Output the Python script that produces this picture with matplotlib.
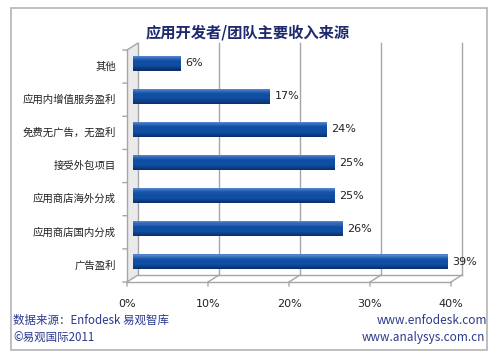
import matplotlib
matplotlib.use("Agg")
import matplotlib.pyplot as plt
import numpy as np
from matplotlib.transforms import ScaledTranslation
from matplotlib.patches import Rectangle, Polygon
from matplotlib.colors import to_rgb

plt.rcParams['font.family'] = ['Noto Sans CJK SC', 'DejaVu Sans']

# data
categories = ["广告盈利", "应用商店国内分成", "应用商店海外分成", "接受外包项目",
              "免费无广告，无盈利", "应用内增值服务盈利", "其他"]
values = [39, 26, 25, 25, 24, 17, 6]
xticks = [0, 10, 20, 30, 40]
xtick_labels = ["0%", "10%", "20%", "30%", "40%"]
title = "应用开发者/团队主要收入来源"
source = "数据来源：Enfodesk 易观智库"
copyright_txt = "©易观国际2011"
site1 = "www.enfodesk.com"
site2 = "www.analysys.com.cn"

W, H = 500, 357
fig = plt.figure(figsize=(W / 100, H / 100), dpi=100)

# outer frame
fig.patches.append(Rectangle((11 / W, 1 - 350 / H), 476 / W, 342 / H,
                             transform=fig.transFigure, fill=False,
                             edgecolor="#b4b4b4", linewidth=1.2))

# front plane of the pseudo-3d plot: x 127..451 px, y 50..282 px
ax_w, ax_h = 324, 232
ax = fig.add_axes([127 / W, 1 - 282 / H, ax_w / W, ax_h / H])
ax.set_xlim(0, 40)
ax.set_ylim(-0.5, 6.5)
ax.axis("off")

dpx, dpy = 11, 7  # depth offset in pixels
back = ScaledTranslation(dpx / 100, dpy / 100, fig.dpi_scale_trans)
mid = ScaledTranslation(dpx / 200, dpy / 200, fig.dpi_scale_trans)
xt = ax.get_xaxis_transform()
yt = ax.get_yaxis_transform()
grid_c = "#a6a6a6"
line = dict(arrowstyle="-", color=grid_c, lw=1, shrinkA=0, shrinkB=0)

# left wall (light gray)
ox, oy = dpx / ax_w, dpy / ax_h
ax.add_patch(Polygon([(0, 0), (0, 1), (ox, 1 + oy), (ox, oy)], closed=True,
                     transform=ax.transAxes, facecolor="#eaeaea", edgecolor="none",
                     zorder=0, clip_on=False))
ax.plot([0, 0], [0, 1], transform=ax.transAxes, color=grid_c, lw=1, clip_on=False)
ax.annotate("", xy=(0, 1), xycoords=ax.transAxes, xytext=(0, 1),
            textcoords=ax.transAxes + back, arrowprops=line)

# back gridlines, floor edges and ticks
for v in xticks:
    ax.plot([v, v], [0, 1], transform=xt + back, color=grid_c, lw=1, zorder=1, clip_on=False)
    ax.annotate("", xy=(v, 0), xycoords=xt, xytext=(v, 0), textcoords=xt + back,
                arrowprops=line)
    ax.annotate("", xy=(v, 0), xycoords=xt, xytext=(0, -3), textcoords="offset points",
                arrowprops=line)
ax.plot([0, 40], [0, 0], transform=xt, color=grid_c, lw=1, clip_on=False)
ax.plot([0, 40], [0, 0], transform=xt + back, color=grid_c, lw=1, clip_on=False)

# left axis ticks between categories
for b in np.arange(-0.5, 7, 1):
    ax.annotate("", xy=(0, b), xycoords=yt, xytext=(-3, 0), textcoords="offset points",
                arrowprops=line)

# bars with vertical gradient (dark bottom -> light top)
y = np.arange(len(values))
h = 0.45
n = 14
bottom_c = np.array(to_rgb("#0a2d68"))
mid_c = np.array(to_rgb("#0f4ea3"))
top_c = np.array(to_rgb("#5a8ad4"))
for i in range(n):
    t = (i + 0.5) / n
    if t < 0.6:
        col = bottom_c + (mid_c - bottom_c) * min(1, t / 0.35)
    else:
        col = mid_c + (top_c - mid_c) * ((t - 0.6) / 0.4) ** 1.5
    bars = ax.barh(y - h / 2 + i * h / n, values, height=h / n * 1.05, align="edge",
                   color=tuple(col), linewidth=0, zorder=3)
    for p in bars:
        p.set_transform(ax.transData + mid)

# value labels
for yi, v in zip(y, values):
    ax.annotate(f"{v}%", xy=(v, yi), xycoords=ax.transData + mid, xytext=(3, 0),
                textcoords="offset points", va="center", ha="left",
                fontsize=8, color="#222222", family=["DejaVu Sans"], zorder=4)

# category labels
for yi, c in zip(y, categories):
    ax.annotate(c, xy=(0, yi), xycoords=yt, xytext=(-8, 0), textcoords="offset points",
                ha="right", va="center", fontsize=7.5, color="#222222")

# x tick labels
for v, lab in zip(xticks, xtick_labels):
    ax.text(v, -0.095, lab, transform=xt, ha="center", va="center", fontsize=8,
            color="#222222", family=["DejaVu Sans"])

blue = "#2b3a8f"
fig.text(248 / W, 1 - 32 / H, title, ha="center", va="center", fontsize=11,
         fontweight="bold", color="#1f2a6e")
fig.text(13 / W, 1 - 320 / H, source, ha="left", va="center", fontsize=8.3, color=blue)
fig.text(13 / W, 1 - 338 / H, copyright_txt, ha="left", va="center", fontsize=8.3, color=blue)
fig.text(487 / W, 1 - 320 / H, site1, ha="right", va="center", fontsize=8.5, color=blue)
fig.text(485 / W, 1 - 338 / H, site2, ha="right", va="center", fontsize=8.5, color=blue)

fig.savefig("out.png", dpi=100)
